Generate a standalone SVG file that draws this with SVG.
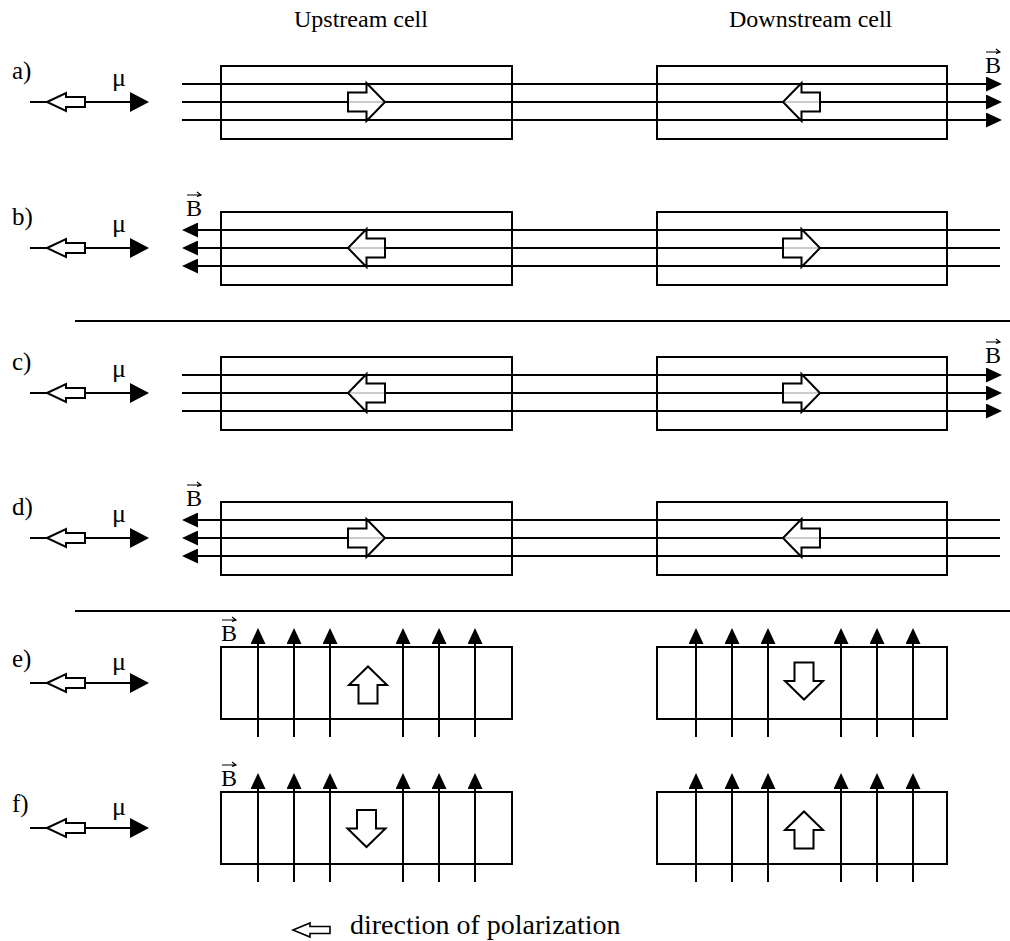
<svg xmlns="http://www.w3.org/2000/svg" xmlns:xlink="http://www.w3.org/1999/xlink" width="1010" height="941" viewBox="0 0 1010 941">
<style>
text{font-family:"Liberation Serif","Times New Roman",serif;fill:#000}
.lbl{font-size:25px}
.mu{font-size:26px}
.hd{font-size:24px}
.lg{font-size:28px}
.bv{font-size:24px}
.cell{fill:none;stroke:#000;stroke-width:2}
.fl{stroke:#000;stroke-width:2;fill:none}
.big{fill:#fff;fill-opacity:0.8;stroke:#000;stroke-width:2;stroke-linejoin:miter}
.small{fill:#fff;stroke:#000;stroke-width:2}
.sep{stroke:#000;stroke-width:2}
.ov{stroke:#000;stroke-width:1.2;fill:none}
</style>
<defs>
<marker id="fh" markerUnits="userSpaceOnUse" markerWidth="16" markerHeight="15" refX="8" refY="7.5" orient="auto"><path d="M0,0 L16,7.5 L0,15 Z" fill="#000"/></marker>
<marker id="mh" markerUnits="userSpaceOnUse" markerWidth="19" markerHeight="20" refX="9" refY="10" orient="auto"><path d="M0,0 L19,10 L0,20 Z" fill="#000"/></marker>
<path id="bigArrow" d="M-18.5,-9.5 L0,-9.5 L0,-19 L18.5,0 L0,19 L0,9.5 L-18.5,9.5 Z"/>
<g id="muArrow">
<line x1="30" y1="0" x2="139" y2="0" class="fl" marker-end="url(#mh)"/>
<path d="M47,0 L66,-9 L66,-5 L85,-5 L85,5 L66,5 L66,9 Z" class="small"/>
</g>
<path id="overArrow" d="M1,0 L15,0 M11,-3 L15,0 L11,1.5" class="ov"/>
</defs>

<g id="headers">
<text class="hd" x="294" y="27">Upstream cell</text>
<text class="hd" x="729" y="27">Downstream cell</text>
</g>

<g id="separators">
<line x1="75" y1="321" x2="1010" y2="321" class="sep"/>
<line x1="75" y1="611" x2="1010" y2="611" class="sep"/>
</g>

<g id="connectors">
<!-- a -->
<line x1="182" y1="84" x2="994" y2="84" class="fl" marker-end="url(#fh)"/>
<line x1="182" y1="102" x2="994" y2="102" class="fl" marker-end="url(#fh)"/>
<line x1="182" y1="120" x2="994" y2="120" class="fl" marker-end="url(#fh)"/>
<!-- b -->
<line x1="1000" y1="230" x2="190" y2="230" class="fl" marker-end="url(#fh)"/>
<line x1="1000" y1="248" x2="190" y2="248" class="fl" marker-end="url(#fh)"/>
<line x1="1000" y1="266" x2="190" y2="266" class="fl" marker-end="url(#fh)"/>
<!-- c -->
<line x1="182" y1="375" x2="994" y2="375" class="fl" marker-end="url(#fh)"/>
<line x1="182" y1="393" x2="994" y2="393" class="fl" marker-end="url(#fh)"/>
<line x1="182" y1="411" x2="994" y2="411" class="fl" marker-end="url(#fh)"/>
<!-- d -->
<line x1="1000" y1="520" x2="190" y2="520" class="fl" marker-end="url(#fh)"/>
<line x1="1000" y1="538" x2="190" y2="538" class="fl" marker-end="url(#fh)"/>
<line x1="1000" y1="556" x2="190" y2="556" class="fl" marker-end="url(#fh)"/>
<!-- e -->
<g class="fl" marker-end="url(#fh)">
<line x1="258" y1="737" x2="258" y2="636"/>
<line x1="294" y1="737" x2="294" y2="636"/>
<line x1="330" y1="737" x2="330" y2="636"/>
<line x1="403" y1="737" x2="403" y2="636"/>
<line x1="439" y1="737" x2="439" y2="636"/>
<line x1="475" y1="737" x2="475" y2="636"/>
<line x1="696" y1="737" x2="696" y2="636"/>
<line x1="732" y1="737" x2="732" y2="636"/>
<line x1="768" y1="737" x2="768" y2="636"/>
<line x1="841" y1="737" x2="841" y2="636"/>
<line x1="877" y1="737" x2="877" y2="636"/>
<line x1="913" y1="737" x2="913" y2="636"/>
<!-- f -->
<line x1="258" y1="882" x2="258" y2="781"/>
<line x1="294" y1="882" x2="294" y2="781"/>
<line x1="330" y1="882" x2="330" y2="781"/>
<line x1="403" y1="882" x2="403" y2="781"/>
<line x1="439" y1="882" x2="439" y2="781"/>
<line x1="475" y1="882" x2="475" y2="781"/>
<line x1="696" y1="882" x2="696" y2="781"/>
<line x1="732" y1="882" x2="732" y2="781"/>
<line x1="768" y1="882" x2="768" y2="781"/>
<line x1="841" y1="882" x2="841" y2="781"/>
<line x1="877" y1="882" x2="877" y2="781"/>
<line x1="913" y1="882" x2="913" y2="781"/>
</g>
</g>

<g id="row-a">
<text class="lbl" x="12" y="79">a)</text>
<text class="mu" x="112" y="86">μ</text>
<use xlink:href="#muArrow" transform="translate(0,102)"/>
<text class="bv" x="985" y="73">B</text>
<use xlink:href="#overArrow" transform="translate(985,52)"/>
<g id="cell-a-up"><rect x="221" y="66" width="291" height="73" class="cell"/><use xlink:href="#bigArrow" class="big" transform="translate(366.5,102)"/></g>
<g id="cell-a-down"><rect x="657" y="66" width="290" height="73" class="cell"/><use xlink:href="#bigArrow" class="big" transform="translate(801.5,102) rotate(180)"/></g>
</g>

<g id="row-b">
<text class="lbl" x="12" y="225">b)</text>
<text class="mu" x="112" y="232">μ</text>
<use xlink:href="#muArrow" transform="translate(0,248)"/>
<text class="bv" x="186" y="216">B</text>
<use xlink:href="#overArrow" transform="translate(186,195)"/>
<g id="cell-b-up"><rect x="221" y="212" width="291" height="73" class="cell"/><use xlink:href="#bigArrow" class="big" transform="translate(366.5,248) rotate(180)"/></g>
<g id="cell-b-down"><rect x="657" y="212" width="290" height="73" class="cell"/><use xlink:href="#bigArrow" class="big" transform="translate(801.5,248)"/></g>
</g>

<g id="row-c">
<text class="lbl" x="12" y="370">c)</text>
<text class="mu" x="112" y="377">μ</text>
<use xlink:href="#muArrow" transform="translate(0,393)"/>
<text class="bv" x="985" y="363">B</text>
<use xlink:href="#overArrow" transform="translate(985,342)"/>
<g id="cell-c-up"><rect x="221" y="357" width="291" height="73" class="cell"/><use xlink:href="#bigArrow" class="big" transform="translate(366.5,393) rotate(180)"/></g>
<g id="cell-c-down"><rect x="657" y="357" width="290" height="73" class="cell"/><use xlink:href="#bigArrow" class="big" transform="translate(801.5,393)"/></g>
</g>

<g id="row-d">
<text class="lbl" x="12" y="515">d)</text>
<text class="mu" x="112" y="522">μ</text>
<use xlink:href="#muArrow" transform="translate(0,538)"/>
<text class="bv" x="186" y="506">B</text>
<use xlink:href="#overArrow" transform="translate(186,485)"/>
<g id="cell-d-up"><rect x="221" y="502" width="291" height="73" class="cell"/><use xlink:href="#bigArrow" class="big" transform="translate(366.5,538)"/></g>
<g id="cell-d-down"><rect x="657" y="502" width="290" height="73" class="cell"/><use xlink:href="#bigArrow" class="big" transform="translate(801.5,538) rotate(180)"/></g>
</g>

<g id="row-e">
<text class="lbl" x="12" y="667">e)</text>
<text class="mu" x="112" y="670">μ</text>
<use xlink:href="#muArrow" transform="translate(0,683)"/>
<text class="bv" x="221" y="641">B</text>
<use xlink:href="#overArrow" transform="translate(221,620)"/>
<g id="cell-e-up"><rect x="221" y="647" width="291" height="72" class="cell"/><use xlink:href="#bigArrow" class="big" transform="translate(368,685) rotate(-90)"/></g>
<g id="cell-e-down"><rect x="657" y="647" width="290" height="72" class="cell"/><use xlink:href="#bigArrow" class="big" transform="translate(804,681) rotate(90)"/></g>
</g>

<g id="row-f">
<text class="lbl" x="12" y="812">f)</text>
<text class="mu" x="112" y="815">μ</text>
<use xlink:href="#muArrow" transform="translate(0,828)"/>
<text class="bv" x="221" y="786">B</text>
<use xlink:href="#overArrow" transform="translate(221,765)"/>
<g id="cell-f-up"><rect x="221" y="792" width="291" height="72" class="cell"/><use xlink:href="#bigArrow" class="big" transform="translate(366.5,828.5) rotate(90)"/></g>
<g id="cell-f-down"><rect x="657" y="792" width="290" height="72" class="cell"/><use xlink:href="#bigArrow" class="big" transform="translate(804,830) rotate(-90)"/></g>
</g>

<g id="legend">
<path d="M293,930 L310,923 L310,926.5 L330,926.5 L330,933.5 L310,933.5 L310,937 Z" fill="#fff" stroke="#000" stroke-width="1.6"/>
<text class="lg" x="350" y="934">direction of polarization</text>
</g>
</svg>
